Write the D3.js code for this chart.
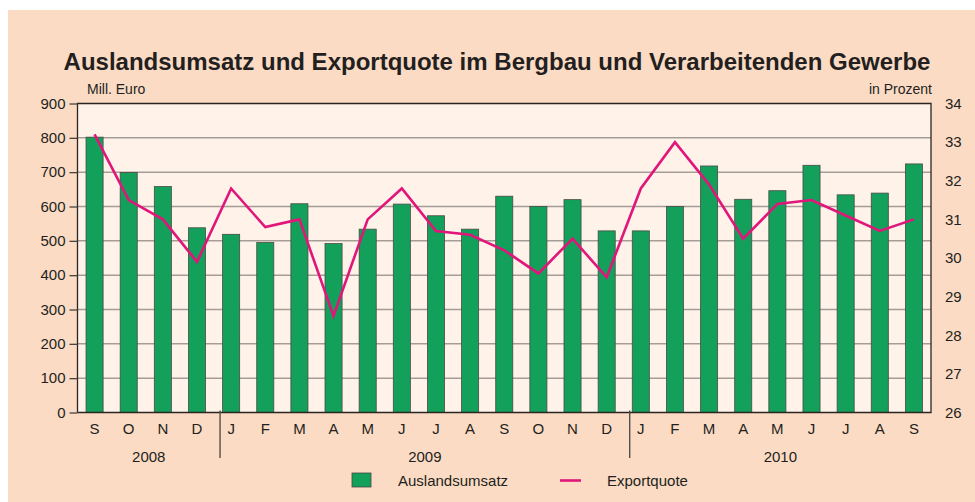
<!DOCTYPE html>
<html>
<head>
<meta charset="utf-8">
<script src="https://cdn.jsdelivr.net/npm/d3@7"></script>
<style>
  body { margin: 0; background: #fff; }
  svg { display: block; }
  svg text { font-family: Arial, "Liberation Sans", Helvetica, sans-serif; }
</style>
</head>
<body>
<div id="chart"></div>
<script>
// months Sep 2008 .. Sep 2010
var months = ["S","O","N","D","J","F","M","A","M","J","J","A","S","O","N","D","J","F","M","A","M","J","J","A","S"];
var years = [{label:"2008", from:0, to:4}, {label:"2009", from:4, to:16}, {label:"2010", from:16, to:25}];
// Auslandsumsatz, Mill. Euro
var umsatz = [802,699,658,538, 519,495,608,492,534,607,573,534,630,600,620,529, 529,600,718,621,646,720,634,639,724];
// Exportquote, in Prozent
var quote = [33.2,31.5,31.0,29.9, 31.8,30.8,31.0,28.5,31.0,31.8,30.7,30.6,30.2,29.6,30.5,29.5, 31.8,33.0,31.9,30.5,31.4,31.5,31.1,30.7,31.0];
var leftTicks = [0,100,200,300,400,500,600,700,800,900];
var rightTicks = [26,27,28,29,30,31,32,33,34];

var W = 975, H = 502;
var L = 77.5, R = 931, T = 103.5, B = 412.5;
var textCol = "#231f20";

var svg = d3.select("#chart").append("svg")
    .attr("width", W)
    .attr("height", H);

// background
svg.append("rect").attr("x", 8).attr("y", 10).attr("width", W - 8).attr("height", H - 10)
    .style("fill", "#fbdbc4");
svg.append("rect").attr("x", L).attr("y", T).attr("width", R - L).attr("height", B - T)
    .style("fill", "#fef2e9");

var x = d3.scaleBand().domain(d3.range(months.length)).range([L, R]).paddingInner(0.5).paddingOuter(0.25);
var y = d3.scaleLinear().domain([0, 900]).range([B, T]);
var y2 = d3.scaleLinear().domain([26, 34]).range([B, T]);

// grid
svg.append("g").selectAll("line")
    .data(leftTicks.slice(1, -1))
    .enter().append("line")
    .attr("x1", L).attr("x2", R)
    .attr("y1", function(d){ return y(d); }).attr("y2", function(d){ return y(d); })
    .style("stroke", "#a59d97").style("stroke-width", 1.5);

// bars
svg.append("g").selectAll("rect")
    .data(umsatz)
    .enter().append("rect")
    .attr("x", function(d, i){ return x(i); })
    .attr("y", function(d){ return y(d); })
    .attr("width", x.bandwidth())
    .attr("height", function(d){ return B - y(d); })
    .style("fill", "#12a05b")
    .style("stroke", "#4a4a44")
    .style("stroke-width", 0.8);

// frame
svg.append("path")
    .attr("d", "M" + L + "," + B + "V" + T + "H" + R + "V" + B + "H" + L)
    .style("fill", "none").style("stroke", "#2b2522").style("stroke-width", 1.3);

// left axis
var yAxis = d3.axisLeft(y).tickValues(leftTicks).tickSize(8).tickPadding(4);
var gy = svg.append("g").attr("transform", "translate(" + L + ",0)").call(yAxis);
gy.attr("font-family", null);
gy.select(".domain").remove();
gy.selectAll("line").style("stroke", "#4a4440").style("stroke-width", 1.3);
gy.selectAll("text").style("font-size", "15px").style("fill", textCol);

// right axis
var yAxis2 = d3.axisRight(y2).tickValues(rightTicks).tickSize(0).tickPadding(14);
var gy2 = svg.append("g").attr("transform", "translate(" + R + ",0)").call(yAxis2);
gy2.attr("font-family", null);
gy2.select(".domain").remove();
gy2.selectAll("text").style("font-size", "15px").style("fill", textCol);

// month labels
svg.append("g").selectAll("text")
    .data(months)
    .enter().append("text")
    .attr("x", function(d, i){ return x(i) + x.bandwidth() / 2; })
    .attr("y", 434)
    .attr("text-anchor", "middle")
    .style("font-size", "15px")
    .style("fill", textCol)
    .text(function(d){ return d; });

// year separators + labels
var gap = x.step() - x.bandwidth();
function sepX(i){ return x(i) - 0.15 * gap; }
svg.append("g").selectAll("line")
    .data(years.slice(1))
    .enter().append("line")
    .attr("x1", function(d){ return sepX(d.from); })
    .attr("x2", function(d){ return sepX(d.from); })
    .attr("y1", B - 2).attr("y2", 458)
    .style("stroke", "#4a4440").style("stroke-width", 1.3);

svg.append("g").selectAll("text")
    .data(years)
    .enter().append("text")
    .attr("x", function(d){
        var a = d.from === 0 ? L : sepX(d.from);
        var b = d.to === months.length ? R : sepX(d.to);
        return (a + b) / 2;
    })
    .attr("y", 462)
    .attr("text-anchor", "middle")
    .style("font-size", "15px")
    .style("fill", textCol)
    .text(function(d){ return d.label; });

// Exportquote line
var line = d3.line()
    .x(function(d, i){ return x(i) + x.bandwidth() / 2; })
    .y(function(d){ return y2(d); });
svg.append("path")
    .datum(quote)
    .attr("d", line)
    .style("fill", "none")
    .style("stroke", "#e1157a")
    .style("stroke-width", 2.6)
    .style("stroke-linejoin", "miter");

// title + unit labels
svg.append("text")
    .attr("x", 497).attr("y", 70)
    .attr("text-anchor", "middle")
    .style("font-size", "24px")
    .style("font-weight", "bold")
    .style("fill", textCol)
    .text("Auslandsumsatz und Exportquote im Bergbau und Verarbeitenden Gewerbe");
svg.append("text")
    .attr("x", 87).attr("y", 94)
    .style("font-size", "14px")
    .style("fill", textCol)
    .text("Mill. Euro");
svg.append("text")
    .attr("x", 932).attr("y", 94)
    .attr("text-anchor", "end")
    .style("font-size", "14px")
    .style("fill", textCol)
    .text("in Prozent");

// legend
svg.append("rect")
    .attr("x", 352).attr("y", 473).attr("width", 19).attr("height", 14)
    .style("fill", "#12a05b").style("stroke", "#4a4a44").style("stroke-width", 0.8);
svg.append("text")
    .attr("x", 398).attr("y", 486)
    .style("font-size", "15px").style("fill", textCol)
    .text("Auslandsumsatz");
svg.append("line")
    .attr("x1", 560).attr("x2", 581).attr("y1", 480.5).attr("y2", 480.5)
    .style("stroke", "#e1157a").style("stroke-width", 2.6);
svg.append("text")
    .attr("x", 607).attr("y", 486)
    .style("font-size", "15px").style("fill", textCol)
    .text("Exportquote");
</script>
</body>
</html>
